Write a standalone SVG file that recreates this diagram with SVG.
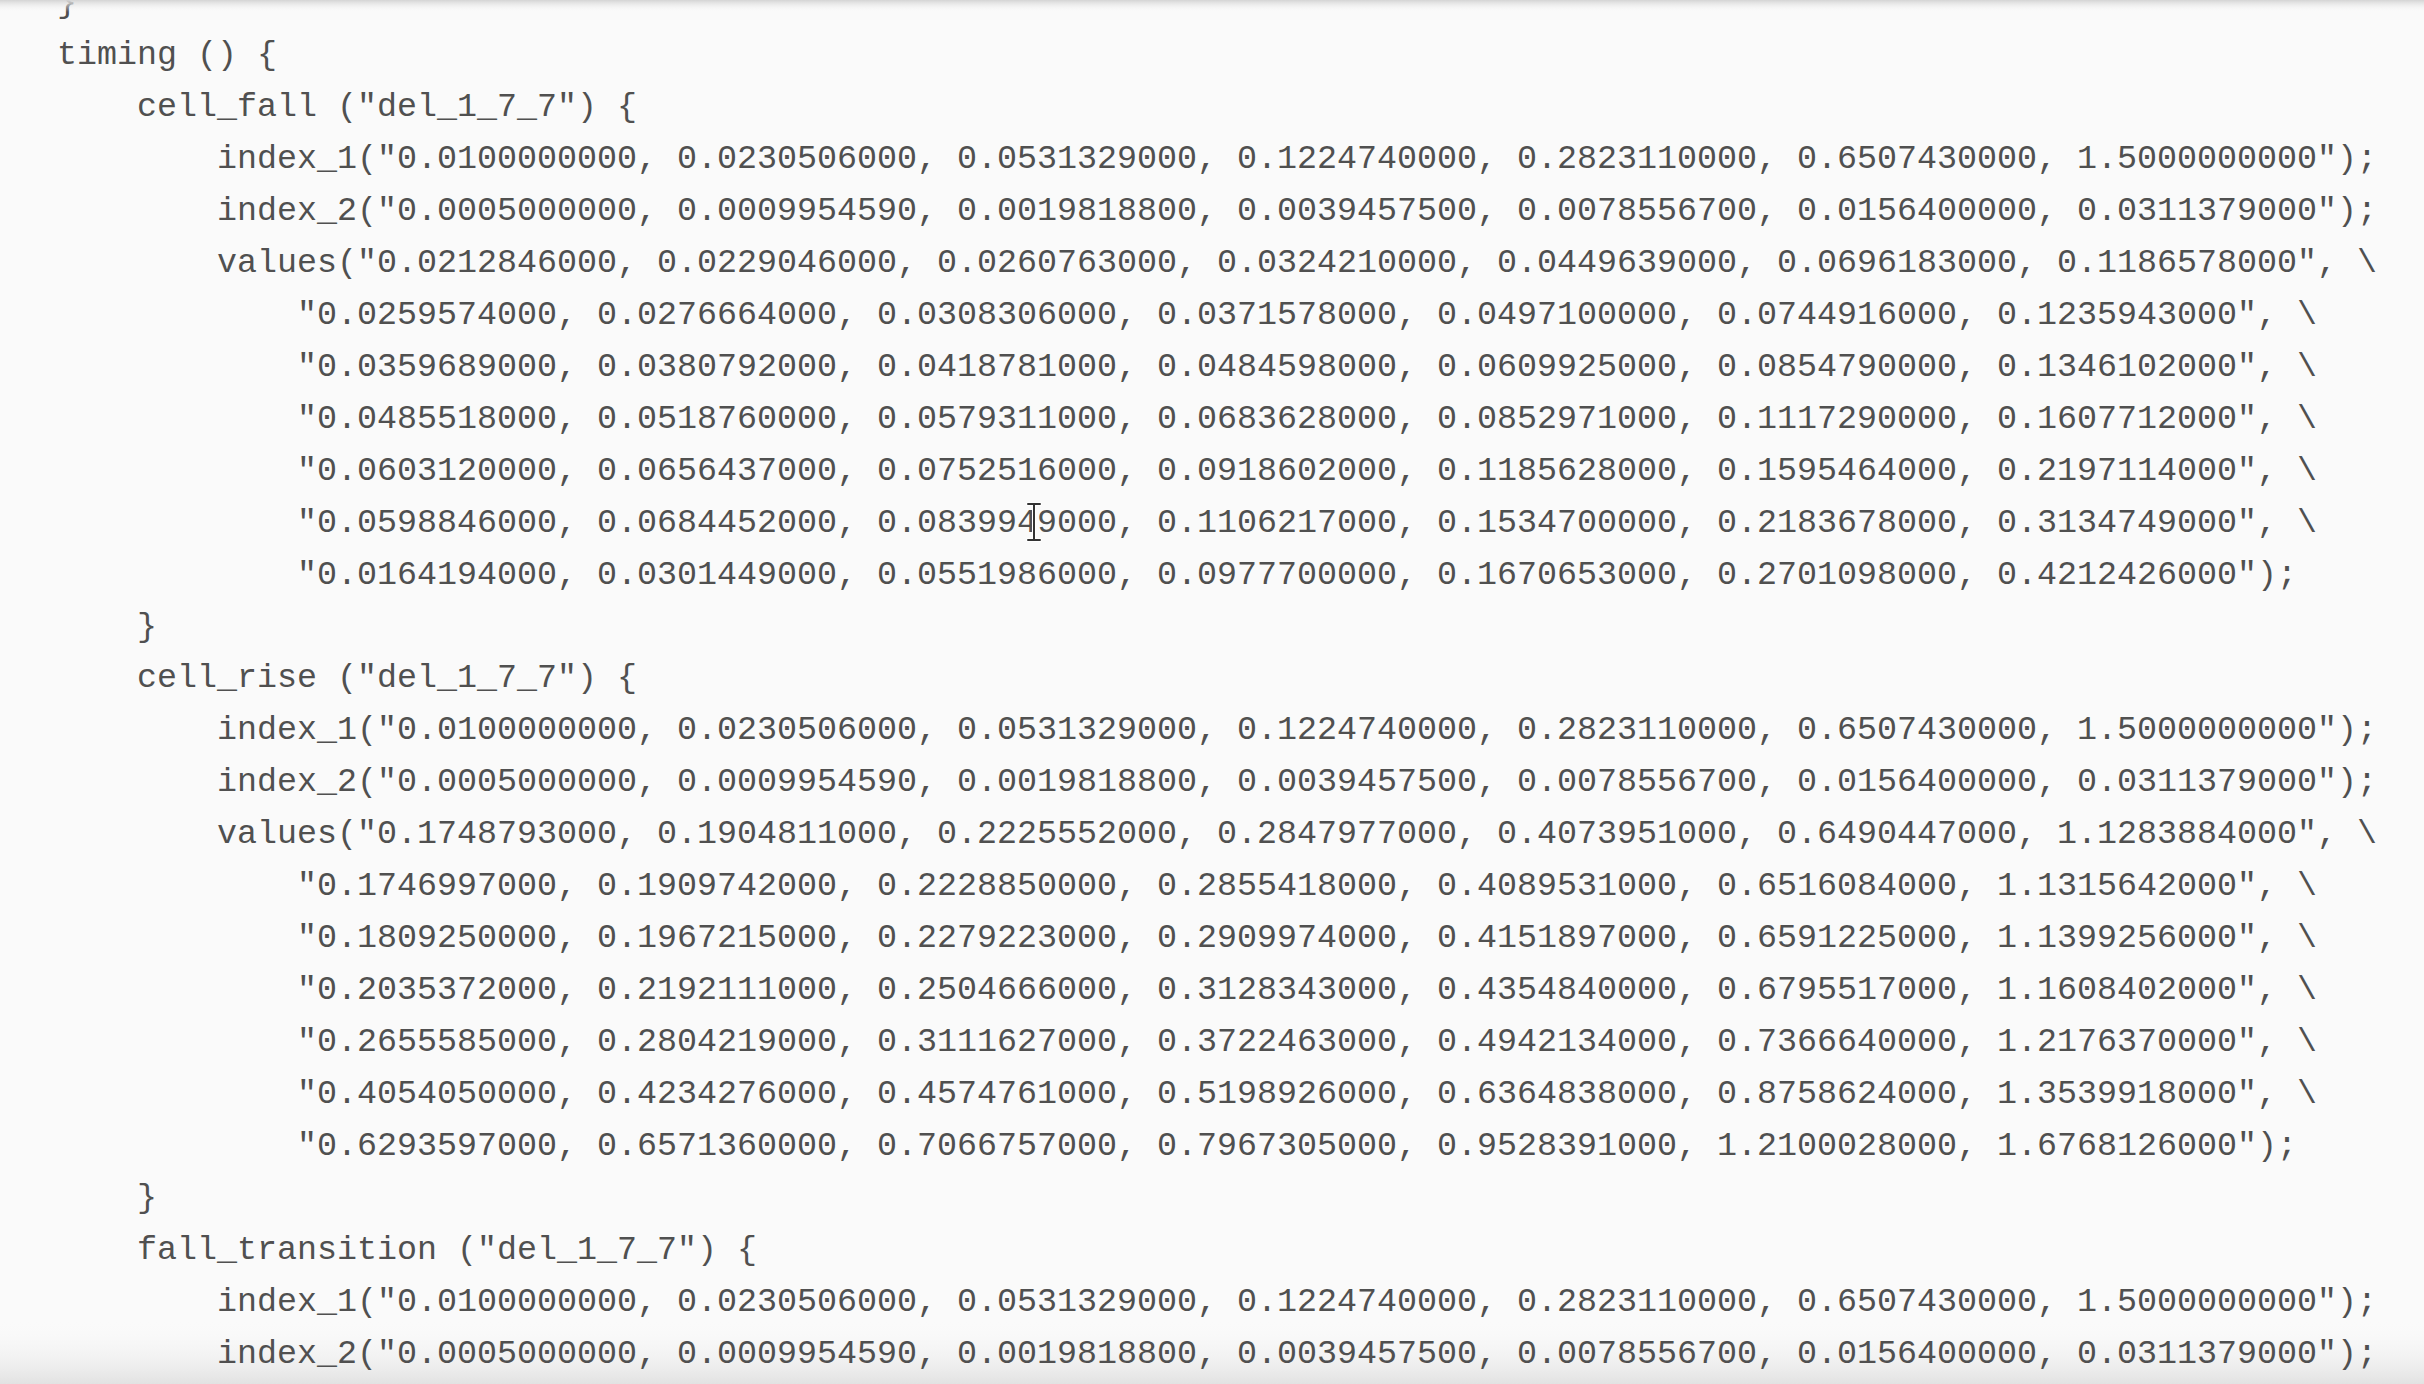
<svg xmlns="http://www.w3.org/2000/svg" width="2424" height="1384" viewBox="0 0 2424 1384">
<defs>
<style>
.c{font-family:"Liberation Mono","DejaVu Sans Mono",monospace;font-size:33.33px;fill:#505050;white-space:pre}
</style>
<linearGradient id="top" x1="0" y1="0" x2="0" y2="1">
<stop offset="0" stop-color="#d4d4d4"/>
<stop offset="1" stop-color="#fafafa" stop-opacity="0"/>
</linearGradient>
<linearGradient id="bot" x1="0" y1="0" x2="0" y2="1">
<stop offset="0" stop-color="#fafafa" stop-opacity="0"/>
<stop offset="1" stop-color="#e2e2e2"/>
</linearGradient>
</defs>
<rect width="2424" height="1384" fill="#fafafa"/>
<rect x="0" y="1320" width="2424" height="64" fill="url(#bot)"/>
<g id="code">
<text class="c" x="57" y="12">}</text>
<text class="c" x="57" y="64">timing () {</text>
<text class="c" x="137" y="116">cell_fall ("del_1_7_7") {</text>
<text class="c" x="217" y="168">index_1("0.0100000000, 0.0230506000, 0.0531329000, 0.1224740000, 0.2823110000, 0.6507430000, 1.5000000000");</text>
<text class="c" x="217" y="220">index_2("0.0005000000, 0.0009954590, 0.0019818800, 0.0039457500, 0.0078556700, 0.0156400000, 0.0311379000");</text>
<text class="c" x="217" y="272">values("0.0212846000, 0.0229046000, 0.0260763000, 0.0324210000, 0.0449639000, 0.0696183000, 0.1186578000", \</text>
<text class="c" x="297" y="324">"0.0259574000, 0.0276664000, 0.0308306000, 0.0371578000, 0.0497100000, 0.0744916000, 0.1235943000", \</text>
<text class="c" x="297" y="376">"0.0359689000, 0.0380792000, 0.0418781000, 0.0484598000, 0.0609925000, 0.0854790000, 0.1346102000", \</text>
<text class="c" x="297" y="428">"0.0485518000, 0.0518760000, 0.0579311000, 0.0683628000, 0.0852971000, 0.1117290000, 0.1607712000", \</text>
<text class="c" x="297" y="480">"0.0603120000, 0.0656437000, 0.0752516000, 0.0918602000, 0.1185628000, 0.1595464000, 0.2197114000", \</text>
<text class="c" x="297" y="532">"0.0598846000, 0.0684452000, 0.0839949000, 0.1106217000, 0.1534700000, 0.2183678000, 0.3134749000", \</text>
<text class="c" x="297" y="584">"0.0164194000, 0.0301449000, 0.0551986000, 0.0977700000, 0.1670653000, 0.2701098000, 0.4212426000");</text>
<text class="c" x="137" y="636">}</text>
<text class="c" x="137" y="687">cell_rise ("del_1_7_7") {</text>
<text class="c" x="217" y="739">index_1("0.0100000000, 0.0230506000, 0.0531329000, 0.1224740000, 0.2823110000, 0.6507430000, 1.5000000000");</text>
<text class="c" x="217" y="791">index_2("0.0005000000, 0.0009954590, 0.0019818800, 0.0039457500, 0.0078556700, 0.0156400000, 0.0311379000");</text>
<text class="c" x="217" y="843">values("0.1748793000, 0.1904811000, 0.2225552000, 0.2847977000, 0.4073951000, 0.6490447000, 1.1283884000", \</text>
<text class="c" x="297" y="895">"0.1746997000, 0.1909742000, 0.2228850000, 0.2855418000, 0.4089531000, 0.6516084000, 1.1315642000", \</text>
<text class="c" x="297" y="947">"0.1809250000, 0.1967215000, 0.2279223000, 0.2909974000, 0.4151897000, 0.6591225000, 1.1399256000", \</text>
<text class="c" x="297" y="999">"0.2035372000, 0.2192111000, 0.2504666000, 0.3128343000, 0.4354840000, 0.6795517000, 1.1608402000", \</text>
<text class="c" x="297" y="1051">"0.2655585000, 0.2804219000, 0.3111627000, 0.3722463000, 0.4942134000, 0.7366640000, 1.2176370000", \</text>
<text class="c" x="297" y="1103">"0.4054050000, 0.4234276000, 0.4574761000, 0.5198926000, 0.6364838000, 0.8758624000, 1.3539918000", \</text>
<text class="c" x="297" y="1155">"0.6293597000, 0.6571360000, 0.7066757000, 0.7967305000, 0.9528391000, 1.2100028000, 1.6768126000");</text>
<text class="c" x="137" y="1207">}</text>
<text class="c" x="137" y="1259">fall_transition ("del_1_7_7") {</text>
<text class="c" x="217" y="1311">index_1("0.0100000000, 0.0230506000, 0.0531329000, 0.1224740000, 0.2823110000, 0.6507430000, 1.5000000000");</text>
<text class="c" x="217" y="1363">index_2("0.0005000000, 0.0009954590, 0.0019818800, 0.0039457500, 0.0078556700, 0.0156400000, 0.0311379000");</text>
</g>
<g id="cursor" fill="none" stroke-linecap="round">
<path d="M1028 504 H1040 M1034 504 V540 M1028 540 H1040" stroke="#ffffff" stroke-width="4"/>
<path d="M1028 504 H1040 M1034 504 V540 M1028 540 H1040" stroke="#333333" stroke-width="2"/>
</g>
<rect x="0" y="0" width="2424" height="12" fill="url(#top)"/>
</svg>
